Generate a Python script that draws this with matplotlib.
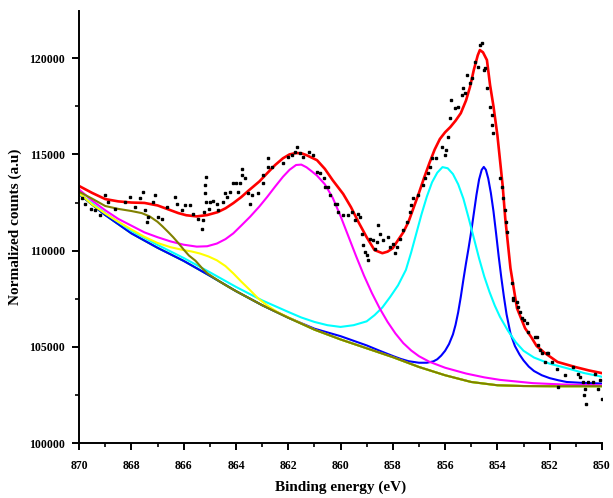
import matplotlib
matplotlib.use("Agg")
import matplotlib.pyplot as plt
from matplotlib.ticker import MultipleLocator

# ---- raw data points (binding energy, counts) ----
dots_e = [869.9, 869.77, 869.54, 869.39, 869.2, 869.0, 868.88, 868.62, 868.24, 868.05,
          867.86, 867.67, 867.54, 867.48, 867.41, 867.35, 867.16, 867.1, 866.97, 866.84,
          866.65, 866.33, 866.26, 866.07, 865.95, 865.76, 865.63, 865.44, 865.31, 865.18,
          865.18, 865.16, 865.25, 865.22, 865.14, 865.02, 864.99, 864.89, 864.73, 864.67,
          864.48, 864.42, 864.35, 864.23, 864.1, 864.0, 863.91, 863.84, 863.78, 863.78,
          863.65, 863.53, 863.46, 863.4, 863.14, 862.95, 862.95, 862.76, 862.76, 862.63,
          862.19, 862.0, 861.87, 861.74, 861.68, 861.55, 861.42, 861.19, 861.04, 860.91,
          860.78, 860.63, 860.59, 860.47, 860.4, 860.21, 860.15, 860.08, 859.89, 859.7,
          859.57, 859.45, 859.32, 859.25, 859.19, 859.13, 859.06, 859.0, 858.95, 858.87,
          858.75, 858.68, 858.62, 858.56, 858.49, 858.36, 858.17, 858.11, 857.98, 857.92,
          857.85, 857.72, 857.6, 857.47, 857.34, 857.3, 857.21, 857.02, 856.83, 856.77,
          856.64, 856.58, 856.52, 856.33, 856.13, 856.0, 855.95, 855.88, 855.81, 855.78,
          855.62, 855.5, 855.37, 855.33, 855.24, 855.18, 855.05, 854.98, 854.86, 854.73,
          854.67, 854.6, 854.5, 854.47, 854.41, 854.28, 854.22, 854.19, 854.16, 853.9,
          853.84, 853.77, 853.71, 853.67, 853.65, 853.46, 853.4, 853.39, 853.26, 853.2,
          853.14, 853.07, 853.0, 852.88, 852.82, 852.56, 852.5, 852.44, 852.37, 852.3,
          852.18, 852.12, 852.05, 851.93, 851.73, 851.67, 851.42, 851.1, 850.91, 850.84,
          850.72, 850.65, 850.67, 850.61, 850.52, 850.33, 850.27, 850.14, 850.08, 850.0]
dots_i = [112710, 112450, 112140, 112100, 111840, 112880, 112540, 112190, 112540, 112800,
          112280, 112710, 113060, 112100, 111500, 111760, 112540, 112880, 111760, 111670,
          112280, 112800, 112450, 112100, 112360, 112360, 111930, 111670, 111150, 112970,
          113400, 113830, 111580, 112020, 112540, 112190, 112540, 112590, 112450, 112100,
          112540, 112970, 112800, 113060, 113490, 113490, 113060, 113490, 113920, 114220,
          113750, 112970, 112450, 112880, 112970, 113490, 113920, 114790, 114350, 114350,
          114530, 114870, 114960, 115130, 115390, 115050, 114870, 115130, 114960, 114090,
          114010, 113750, 113320, 113320, 112880, 112450, 112450, 112020, 111840, 111840,
          112020, 111580, 111930, 111760, 110890, 110290, 109940, 109770, 109510, 110630,
          110550, 110110, 110460, 111320, 110890, 110550, 110720, 110200, 110370, 109860,
          110200, 110630, 111060, 111500, 112020, 112360, 112710, 112880, 113400, 113750,
          114010, 114350, 114790, 114790, 115390, 114960, 115220, 115910, 116870, 117820,
          117390, 117470, 118080, 118430, 118170, 119120, 118690, 118950, 119810, 119550,
          120680, 120760, 119380, 119470, 118430, 117470, 117040, 116520, 116090, 113750,
          113320, 112710, 112100, 111500, 110980, 108300, 107430, 107520, 107350, 107080,
          106820, 106480, 106390, 106220, 105780, 105520, 105520, 105090, 104830, 104660,
          104220, 104660, 104660, 104220, 103880, 102920, 103530, 103960, 103620, 103440,
          103180, 102840, 102490, 102060, 103180, 103180, 103620, 102840, 103270, 102320]

# ---- fitted envelope ----
env_e = [870.0, 869.5, 869.0, 868.5, 868.0, 867.5, 867.0, 866.6, 866.2, 865.9, 865.5,
         865.1, 864.7, 864.4, 864.1, 863.8, 863.5, 863.1, 862.8, 862.5, 862.2, 861.95,
         861.7, 861.5, 861.3, 860.9, 860.6, 860.3, 859.9, 859.6, 859.3, 859.0, 858.7,
         858.4, 858.2, 858.0, 857.8, 857.6, 857.4, 857.2, 857.0, 856.8, 856.6, 856.4,
         856.2, 856.0, 855.8, 855.6, 855.4, 855.2, 855.05, 854.9, 854.75, 854.67, 854.55,
         854.4, 854.28, 854.15, 854.0, 853.8, 853.7, 853.5, 853.25, 852.94, 852.7, 852.5,
         852.2, 851.7, 851.0, 850.5, 850.0]
env_i = [113360, 113000, 112680, 112560, 112500, 112480, 112350, 112150, 111950, 111840, 111780,
         111850, 112000, 112200, 112470, 112780, 113140, 113600, 114030, 114450, 114800, 115000,
         115070, 115060, 114960, 114700, 114250, 113660, 112950, 112260, 111450, 110700, 110030,
         109870, 109950, 110130, 110550, 110950, 111500, 112250, 113000, 113800, 114550, 115250,
         115800, 116150, 116420, 116750, 117140, 117800, 118490, 119400, 120150, 120420, 120300,
         119900, 118600, 117500, 116000, 113400, 111690, 109090, 107010, 105970, 105500, 105050,
         104700, 104220, 103950, 103780, 103640]

# ---- background (Shirley) ----
bg_e = [870, 869, 868, 867, 866, 865, 864, 863, 862, 861, 860, 859, 858, 857, 856, 855,
        854, 853, 852, 851, 850]
bg_i = [112940, 111850, 110900, 110150, 109470, 108700, 107900, 107170, 106520, 105900,
        105390, 104930, 104470, 103960, 103530, 103180, 103010, 102970, 102960, 102960, 102960]

# ---- components (background included) ----
olive_e = [870, 869.5, 869, 868.5, 868, 867.6, 867.3, 867, 866.8, 866.6, 866.4, 866.2, 866,
           865.8, 865.55, 865.3, 865.1, 864.85, 864.6, 864.3, 864, 863, 862, 861, 860, 859,
           858, 857, 856, 855, 854, 853, 852, 850]
olive_i = [113060, 112700, 112320, 112170, 112060, 111950, 111780, 111500, 111250, 110980,
           110700, 110390, 110060, 109750, 109480, 109100, 108830, 108600, 108380, 108130,
           107900, 107170, 106520, 105900, 105390, 104930, 104470, 103960, 103530, 103180,
           103010, 102970, 102960, 102960]

yellow_e = [870, 869.5, 869, 868.5, 868, 867.5, 867, 866.5, 866, 865.7, 865.37, 865.05,
            864.73, 864.4, 864.1, 863.8, 863.46, 863.15, 862.82, 862.4, 862, 861, 860, 859,
            858, 857, 856, 855, 854, 853, 852, 850]
yellow_i = [112990, 112400, 111930, 111500, 111100, 110720, 110400, 110180, 110030, 109960,
            109850, 109700, 109500, 109200, 108820, 108400, 107950, 107520, 107170, 106800,
            106540, 105900, 105390, 104930, 104470, 103960, 103530, 103180, 103010, 102970,
            102960, 102960]

magenta_e = [870, 869.5, 869, 868.5, 868, 867.5, 867, 866.5, 866, 865.5, 865.1, 864.73,
             864.4, 864.1, 863.8, 863.46, 863.1, 862.8, 862.5, 862.2, 861.95, 861.7, 861.5,
             861.3, 861.1, 860.9, 860.6, 860.3, 860.0, 859.7, 859.4, 859.1, 858.8, 858.5,
             858.2, 857.9, 857.6, 857.3, 857.0, 856.6, 856.0, 855.2, 854.5, 853.9, 852.64,
             851.5, 850]
magenta_i = [113180, 112600, 112100, 111650, 111300, 110950, 110700, 110480, 110310, 110210,
             110230, 110370, 110600, 110900, 111300, 111760, 112300, 112800, 113330, 113840,
             114200, 114450, 114470, 114330, 114120, 113900, 113450, 112750, 111800, 110750,
             109700, 108700, 107800, 107000, 106300, 105700, 105200, 104820, 104520, 104230,
             103920, 103620, 103420, 103290, 103120, 103050, 103010]

cyan_e = [870, 869, 868, 867, 866, 865, 864, 863, 862, 861.5, 861, 860.5, 860, 859.5, 859.0,
          858.7, 858.4, 858.1, 857.8, 857.5, 857.3, 857.1, 856.9, 856.7, 856.5, 856.3, 856.1,
          855.9, 855.7, 855.5, 855.3, 855.1, 854.9, 854.7, 854.5, 854.3, 854.1, 853.9, 853.6,
          853.3, 853.0, 852.6, 852.0, 851.35, 850.7, 850]
cyan_i = [112970, 111950, 111030, 110300, 109620, 108880, 108120, 107420, 106820, 106530,
          106300, 106130, 106040, 106130, 106330, 106650, 107050, 107600, 108200, 109000,
          109900, 110900, 111900, 112800, 113550, 114050, 114340, 114280, 113980, 113450,
          112700, 111700, 110650, 109600, 108650, 107850, 107150, 106560, 105850, 105250,
          104800, 104450, 104130, 103900, 103650, 103450]

blue_e = [870, 869, 868, 867, 866, 865, 864, 863, 862, 861, 860, 859, 858.5, 858, 857.7,
          857.4, 857.0, 856.7, 856.45, 856.3, 856.15, 856.0, 855.85, 855.7, 855.6, 855.5,
          855.4, 855.3, 855.2, 855.1, 855.0, 854.9, 854.8, 854.7, 854.6, 854.52, 854.44,
          854.35, 854.25, 854.15, 854.05, 853.95, 853.85, 853.75, 853.65, 853.5, 853.33,
          853.15, 853.0, 852.8, 852.6, 852.3, 852.0, 851.67, 851.35, 850.7, 850]
blue_i = [112940, 111850, 110900, 110150, 109470, 108700, 107900, 107170, 106520, 105950,
          105560, 105080, 104800, 104530, 104380, 104260, 104180, 104180, 104250, 104360,
          104550, 104800, 105150, 105650, 106150, 106800, 107600, 108500, 109350, 110150,
          111000, 111950, 112900, 113700, 114200, 114350, 114200, 113750, 113000, 112050,
          110900, 109700, 108600, 107600, 106700, 105700, 105050, 104600, 104300, 103980,
          103750, 103530, 103380, 103270, 103180, 103130, 103100]


def main():
    fig = plt.figure(figsize=(6.13, 4.98), dpi=100)
    ax = fig.add_axes([0.129, 0.110, 0.853, 0.868])

    lw = 1.5
    ax.plot(bg_e, bg_i, color="#00ff00", lw=lw)
    ax.plot(blue_e, blue_i, color="#0000ff", lw=lw)
    ax.plot(cyan_e, cyan_i, color="#00ffff", lw=lw)
    ax.plot(yellow_e, yellow_i, color="#ffff00", lw=lw)
    ax.plot(magenta_e, magenta_i, color="#ff00ff", lw=lw)
    ax.plot(olive_e, olive_i, color="#808000", lw=lw)
    ax.plot(env_e, env_i, color="#ff0000", lw=1.9)
    ax.plot(dots_e, dots_i, ls="none", marker="s", ms=1.6, color="black")

    ax.set_xlim(870, 850)
    ax.set_ylim(100000, 122450)
    ax.xaxis.set_major_locator(MultipleLocator(2))
    ax.xaxis.set_minor_locator(MultipleLocator(1))
    ax.yaxis.set_major_locator(MultipleLocator(5000))
    ax.yaxis.set_minor_locator(MultipleLocator(2500))

    for s in ("top", "right"):
        ax.spines[s].set_visible(False)
    for s in ("left", "bottom"):
        ax.spines[s].set_linewidth(1.4)

    font = {"family": "Liberation Serif", "weight": "bold"}
    ax.tick_params(which="major", direction="out", length=5, width=1.4, pad=5)
    ax.tick_params(which="minor", direction="out", length=3, width=1.2)
    ax.tick_params(axis="x", pad=7)
    for lab in ax.get_xticklabels() + ax.get_yticklabels():
        lab.set_fontfamily("Liberation Serif")
        lab.set_fontweight("bold")
        lab.set_fontsize(8.5)

    ax.set_xlabel("Binding energy (eV)", fontdict=font, fontsize=11, labelpad=6)
    ax.set_ylabel("Normalized counts (a.u)", fontdict=font, fontsize=11, labelpad=5)

    fig.savefig("out.png", dpi=100)


if __name__ == "__main__":
    main()
